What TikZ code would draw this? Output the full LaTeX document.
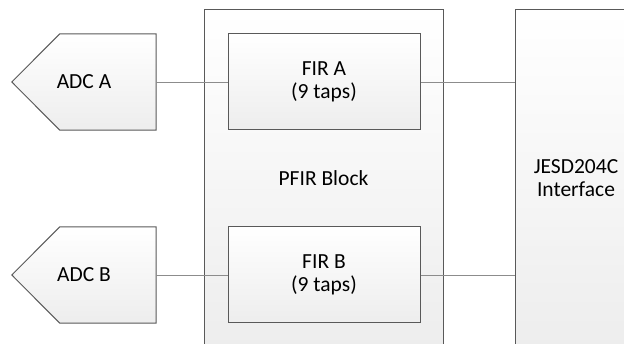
\documentclass[tikz,border=0pt]{standalone}
\usepackage{fontspec}
\setmainfont{Carlito}
\usetikzlibrary{positioning}

\begin{document}
\begin{tikzpicture}[x=1pt, y=-1pt, blk/.style={draw=black!65, line width=1pt, top color=white, bottom color=black!7, align=center, inner sep=0pt, font=\fontsize{21.5}{22.5}\selectfont}, adc/.style={inner sep=0pt, minimum width=144pt, minimum height=96pt, font=\fontsize{21.5}{22.5}\selectfont}, wire/.style={draw=black!45, line width=0.8pt}]
\useasboundingbox (0,0) rectangle (624,344);
\clip (0,0) rectangle (624,344);
% outer blocks
\node[blk, minimum width=239pt, minimum height=336pt] (pfir) at (323.5,178) {PFIR Block};
\node[blk, minimum width=122pt, minimum height=336pt] (jesd) at (576,178) {JESD204C\\Interface};
% filters
\node[blk, minimum width=192pt, minimum height=96pt] (firA) at (324,82) {FIR A\\(9 taps)};
\node[blk, minimum width=192pt, minimum height=96pt] (firB) at (324,275) {FIR B\\(9 taps)};
% converters
\node[adc] (adcA) at (84,82) {};
\node[adc] (adcB) at (84,275) {};
\foreach \n in {adcA,adcB}
  \draw[draw=black!65, line width=1pt, top color=white, bottom color=black!7] (\n.north east) -- (\n.south east) -- ([xshift=48pt]\n.south west) -- (\n.west) -- ([xshift=48pt]\n.north west) -- cycle;
\node[adc] at (adcA) {ADC A};
\node[adc] at (adcB) {ADC B};
% wires
\draw[wire] (adcA.east) -- (firA.west);
\draw[wire] (adcB.east) -- (firB.west);
\draw[wire] (firA.east) -- (firA.east -| jesd.west);
\draw[wire] (firB.east) -- (firB.east -| jesd.west);
\end{tikzpicture}
\end{document}
